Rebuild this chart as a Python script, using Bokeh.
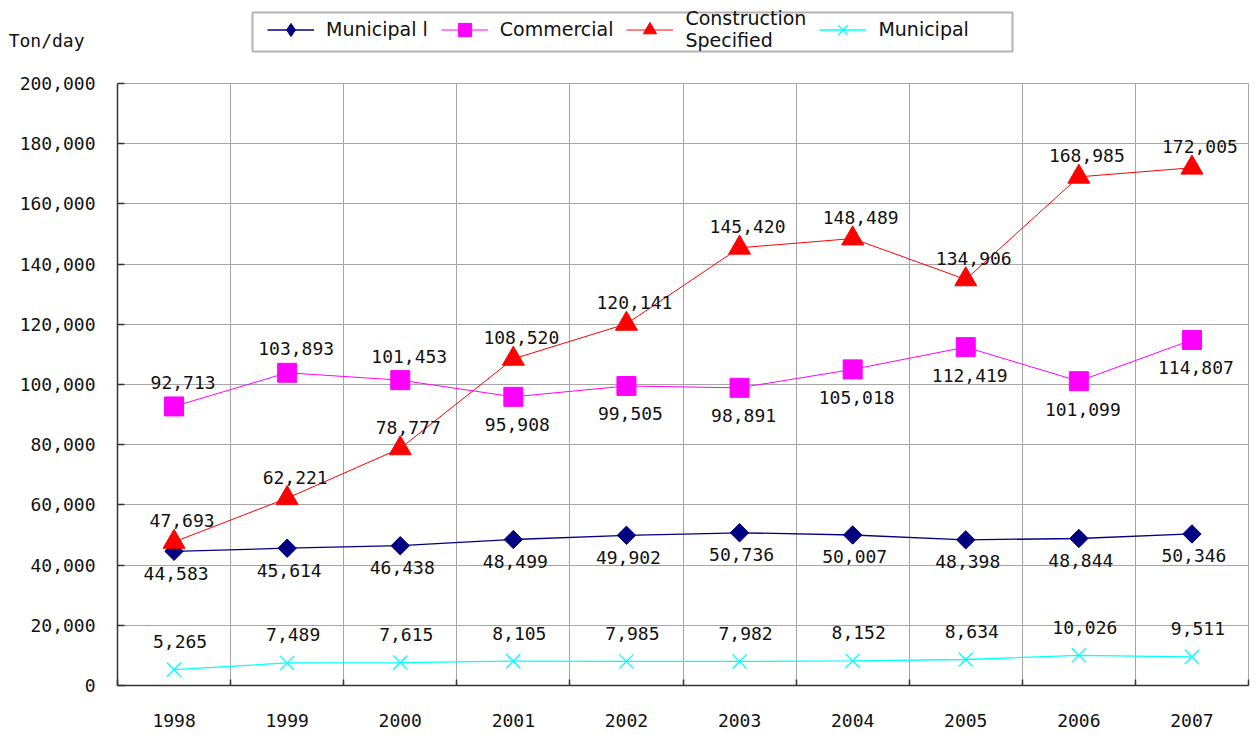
import math
from bokeh.plotting import figure
from bokeh.layouts import column
from bokeh.models import (FixedTicker, NumeralTickFormatter, Legend, LegendItem,
                          Range1d, BoxAnnotation)
from bokeh.embed import file_html
from bokeh.resources import INLINE
from bokeh.core.properties import value

# ---------------- data ----------------
years = [1998, 1999, 2000, 2001, 2002, 2003, 2004, 2005, 2006, 2007]
municipal_i = [44583, 45614, 46438, 48499, 49902, 50736, 50007, 48398, 48844, 50346]
commercial = [92713, 103893, 101453, 95908, 99505, 98891, 105018, 112419, 101099, 114807]
construction = [47693, 62221, 78777, 108520, 120141, 145420, 148489, 134906, 168985, 172005]
municipal = [5265, 7489, 7615, 8105, 7985, 7982, 8152, 8634, 10026, 9511]
series_names = ["Municipal l", "Commercial", "Construction\nSpecified", "Municipal"]
y_ticks = [0, 20000, 40000, 60000, 80000, 100000, 120000, 140000, 160000, 180000, 200000]
y_unit = "Ton/day"

# label placement (style): -1 above the point, +1 below
commercial_side = [-1, -1, -1, 1, 1, 1, 1, 1, 1, 1]

colors = ["#000080", "#ff00ff", "#ff0000", "#00ffff"]

NUM_FONT = "DejaVu Sans Mono"
WORD_FONT = "DejaVu Sans"
GRID = "#a6a6a6"
TXT = "#111111"
AX = "#333333"

FRAME_W = 1131
LEFT = 117
RIGHT = 10

def fmt(v):
    return f"{v:,}"

# ================= header strip (unit label + legend) =================
H_TOP = 73
top = figure(frame_width=FRAME_W, frame_height=H_TOP,
             x_range=Range1d(0, FRAME_W), y_range=Range1d(0, H_TOP),
             x_axis_location=None,
             min_border_left=LEFT, min_border_right=RIGHT, min_border_top=0, min_border_bottom=0,
             output_backend="svg", toolbar_location=None,
             background_fill_color="white", border_fill_color="white")
top.outline_line_color = None
top.grid.visible = False
unit_pos = H_TOP - 40
top.yaxis.ticker = FixedTicker(ticks=[unit_pos])
top.yaxis.major_label_overrides = {unit_pos: y_unit}
top.yaxis.axis_line_color = None
top.yaxis.major_tick_line_color = None
top.yaxis.minor_tick_line_color = None
top.yaxis.major_label_standoff = 27
top.yaxis.major_label_text_font = NUM_FONT
top.yaxis.major_label_text_font_size = "18px"
top.yaxis.major_label_text_color = TXT

# legend glyph samples (series outside this strip's ranges, so only the legend shows them)
d1 = [top.line(years, municipal_i, line_color=colors[0], line_width=1.3),
      top.scatter(years, municipal_i, marker="diamond", fill_color=colors[0], line_color=colors[0])]
d2 = [top.line(years, commercial, line_color=colors[1], line_width=1),
      top.scatter(years, commercial, marker="square", fill_color=colors[1], line_color=colors[1])]
d3 = [top.line(years, construction, line_color=colors[2], line_width=1),
      top.scatter(years, construction, marker="triangle", fill_color=colors[2], line_color=colors[2])]
d4 = [top.line(years, municipal, line_color=colors[3], line_width=1.3),
      top.scatter(years, municipal, marker="x", line_color=colors[3], line_width=1.3)]

legend = Legend(items=[LegendItem(label=series_names[0], renderers=d1),
                       LegendItem(label=series_names[1], renderers=d2),
                       LegendItem(label=series_names[2], renderers=d3),
                       LegendItem(label=series_names[3], renderers=d4)],
                orientation="horizontal", location=(267 - LEFT, H_TOP - 51),
                border_line_color=None, background_fill_alpha=0,
                padding=0, spacing=13, margin=0,
                glyph_width=47, glyph_height=33, label_standoff=12,
                label_text_font=WORD_FONT, label_text_font_size="19px",
                label_text_color=TXT, label_text_line_height=0.8)
top.add_layout(legend, "center")
top.add_layout(BoxAnnotation(left=252 - LEFT, right=1012 - LEFT, top=H_TOP - 12, bottom=H_TOP - 51,
                             fill_alpha=0, line_color="black", line_width=2))

# ================= main chart =================
p = figure(frame_width=FRAME_W, frame_height=602,
           x_range=Range1d(years[0] - 0.5, years[-1] + 0.5),
           y_range=Range1d(y_ticks[0], y_ticks[-1]),
           output_backend="svg", toolbar_location=None,
           min_border_left=LEFT, min_border_right=RIGHT, min_border_top=10, min_border_bottom=45,
           background_fill_color="white", border_fill_color="white")
p.outline_line_color = GRID
p.outline_line_width = 1

bounds = [years[0] - 0.5 + i for i in range(len(years) + 1)]
p.xaxis.ticker = FixedTicker(ticks=years, minor_ticks=bounds)
p.xaxis.major_tick_in = 0
p.xaxis.major_tick_out = 0
p.xaxis.minor_tick_in = 6
p.xaxis.minor_tick_out = 0
p.xaxis.minor_tick_line_color = AX
p.xaxis.minor_tick_line_width = 1.5
p.xaxis.major_label_standoff = 28
p.xaxis.major_label_text_font = NUM_FONT
p.xaxis.major_label_text_font_size = "18px"
p.xaxis.major_label_text_color = TXT
p.xaxis.axis_line_color = AX
p.xaxis.axis_line_width = 1.5
p.xgrid.ticker = FixedTicker(ticks=bounds)
p.xgrid.grid_line_color = GRID

p.yaxis.ticker = FixedTicker(ticks=y_ticks)
p.yaxis.formatter = NumeralTickFormatter(format="0,0")
p.yaxis.major_tick_in = 7
p.yaxis.major_tick_out = 0
p.yaxis.minor_tick_line_color = None
p.yaxis.major_tick_line_color = AX
p.yaxis.major_tick_line_width = 1.5
p.yaxis.major_label_standoff = 22
p.yaxis.major_label_text_font = NUM_FONT
p.yaxis.major_label_text_font_size = "18px"
p.yaxis.major_label_text_color = TXT
p.yaxis.axis_line_color = AX
p.yaxis.axis_line_width = 1.5
p.ygrid.grid_line_color = GRID

# series
p.line(years, municipal_i, line_color=colors[0], line_width=1.3)
p.scatter(years, municipal_i, marker="square", angle=math.pi / 4, size=13,
          fill_color=colors[0], line_color=colors[0])
p.line(years, commercial, line_color=colors[1], line_width=1)
p.scatter(years, commercial, marker="square", size=19, fill_color=colors[1], line_color=colors[1])
p.line(years, construction, line_color=colors[2], line_width=1)
p.scatter(years, construction, marker="triangle", size=22, fill_color=colors[2], line_color=colors[2])
p.line(years, municipal, line_color=colors[3], line_width=1.3)
p.scatter(years, municipal, marker="x", size=20, line_color=colors[3], line_width=1.3)

def labels(vals, yoffs, xoffs):
    p.text(x=years, y=vals, text=[fmt(v) for v in vals],
           x_offset=xoffs, y_offset=yoffs,
           text_align="center", text_baseline="middle",
           text_font=value(NUM_FONT), text_font_size="18px", text_color=TXT)

labels(municipal_i, [22] * len(years), [2] * len(years))
labels(commercial, [(-24 if s < 0 else 28) for s in commercial_side],
       [(9 if s < 0 else 4) for s in commercial_side])
labels(construction, [-21] * len(years), [8] * len(years))
labels(municipal, [-28] * len(years), [6] * len(years))

layout = column(top, p, spacing=0)
open("out.html", "w").write(file_html(layout, INLINE))
